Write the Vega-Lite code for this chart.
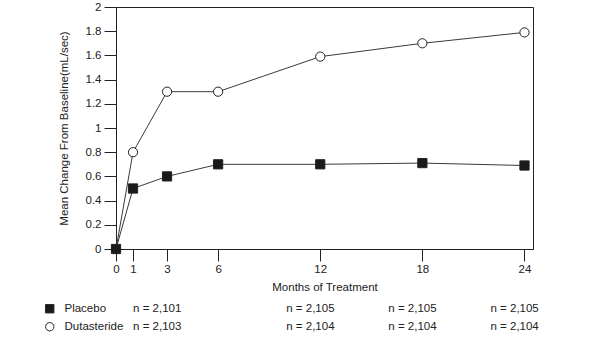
{
  "$schema": "https://vega.github.io/schema/vega-lite/v6.json",
  "padding": {"left": 44, "top": 0, "right": 5, "bottom": 5},
  "background": "white",
  "config": {
    "font": "Liberation Sans",
    "axis": {
      "domainColor": "#222", "tickColor": "#222", "tickSize": 12, "grid": false,
      "labelColor": "#222", "labelFont": "Liberation Sans", "labelFontSize": 11.5,
      "titleColor": "#222", "titleFont": "Liberation Sans", "titleFontSize": 11.5, "titleFontWeight": "normal"
    },
    "legend": {
      "labelFont": "Liberation Sans", "labelFontSize": 11.5, "labelColor": "#222"
    }
  },
  "spacing": 9,
  "vconcat": [
    {
      "width": 417,
      "height": 242,
      "view": {"stroke": "#222", "strokeWidth": 1},
      "data": {
        "values": [
          {"group": "Dutasteride", "month": 0, "change": 0},
          {"group": "Dutasteride", "month": 1, "change": 0.8},
          {"group": "Dutasteride", "month": 3, "change": 1.3},
          {"group": "Dutasteride", "month": 6, "change": 1.3},
          {"group": "Dutasteride", "month": 12, "change": 1.59},
          {"group": "Dutasteride", "month": 18, "change": 1.7},
          {"group": "Dutasteride", "month": 24, "change": 1.79},
          {"group": "Placebo", "month": 0, "change": 0},
          {"group": "Placebo", "month": 1, "change": 0.5},
          {"group": "Placebo", "month": 3, "change": 0.6},
          {"group": "Placebo", "month": 6, "change": 0.7},
          {"group": "Placebo", "month": 12, "change": 0.7},
          {"group": "Placebo", "month": 18, "change": 0.71},
          {"group": "Placebo", "month": 24, "change": 0.69}
        ]
      },
      "encoding": {
        "x": {
          "field": "month", "type": "quantitative",
          "scale": {"domain": [0, 24.5], "nice": false, "zero": false},
          "axis": {"values": [0, 1, 3, 6, 12, 18, 24], "title": "Months of Treatment", "labelPadding": 2, "titlePadding": 7, "labelFlush": false}
        },
        "y": {
          "field": "change", "type": "quantitative",
          "scale": {"domain": [0, 2], "nice": false},
          "axis": {"values": [0, 0.2, 0.4, 0.6, 0.8, 1, 1.2, 1.4, 1.6, 1.8, 2], "format": "~g", "title": "Mean Change From Baseline(mL/sec)", "labelPadding": 3, "titlePadding": 16, "labelFlush": false}
        }
      },
      "layer": [
        {
          "mark": {"type": "line", "color": "#3a3a3a", "strokeWidth": 1},
          "encoding": {"detail": {"field": "group"}}
        },
        {
          "mark": {"type": "point", "size": 85, "opacity": 1, "strokeWidth": 1, "filled": false},
          "encoding": {
            "shape": {
              "field": "group", "type": "nominal",
              "scale": {"domain": ["Placebo", "Dutasteride"], "range": ["square", "circle"]},
              "legend": {"title": null, "orient": "none", "legendX": -72, "legendY": 296, "symbolSize": 70, "symbolStrokeWidth": 1, "rowPadding": 5, "labelOffset": 9}
            },
            "fill": {
              "field": "group", "type": "nominal",
              "scale": {"domain": ["Placebo", "Dutasteride"], "range": ["#1a1a1a", "white"]},
              "legend": {"title": null, "orient": "none", "legendX": -72, "legendY": 296, "symbolSize": 70, "symbolStrokeWidth": 1, "rowPadding": 5, "labelOffset": 9}
            },
            "stroke": {
              "field": "group", "type": "nominal",
              "scale": {"domain": ["Placebo", "Dutasteride"], "range": ["#222222", "#222222"]},
              "legend": {"title": null, "orient": "none", "legendX": -72, "legendY": 296, "symbolSize": 70, "symbolStrokeWidth": 1, "rowPadding": 5, "labelOffset": 9}
            }
          }
        }
      ]
    },
    {
      "width": 417,
      "height": 18,
      "view": {"stroke": null},
      "data": {
        "values": [
          {"group": "Placebo", "month": 3, "n": "n = 2,101"},
          {"group": "Placebo", "month": 12, "n": "n = 2,105"},
          {"group": "Placebo", "month": 18, "n": "n = 2,105"},
          {"group": "Placebo", "month": 24, "n": "n = 2,105"},
          {"group": "Dutasteride", "month": 3, "n": "n = 2,103"},
          {"group": "Dutasteride", "month": 12, "n": "n = 2,104"},
          {"group": "Dutasteride", "month": 18, "n": "n = 2,104"},
          {"group": "Dutasteride", "month": 24, "n": "n = 2,104"}
        ]
      },
      "mark": {"type": "text", "align": "left", "baseline": "middle", "dx": -34, "fontSize": 11.5, "font": "Liberation Sans", "color": "#222"},
      "encoding": {
        "x": {"field": "month", "type": "quantitative", "scale": {"domain": [0, 24.5], "nice": false, "zero": false}, "axis": null},
        "y": {"field": "group", "type": "nominal", "scale": {"type": "point", "padding": 0, "domain": ["Placebo", "Dutasteride"]}, "axis": null},
        "text": {"field": "n"}
      }
    }
  ]
}
